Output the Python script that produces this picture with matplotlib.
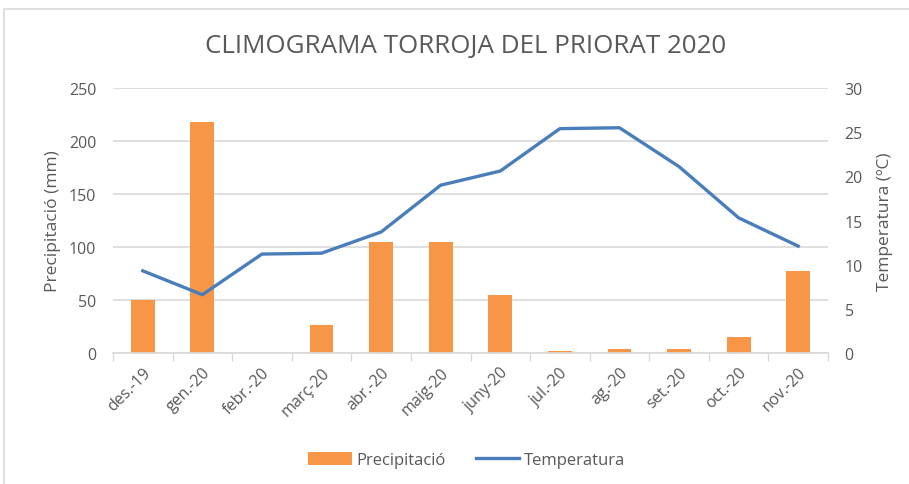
import matplotlib
matplotlib.use("Agg")
import matplotlib.pyplot as plt
from matplotlib.patches import Rectangle, Patch
from matplotlib.lines import Line2D
import numpy as np

months = ["des.-19", "gen.-20", "febr.-20", "març-20", "abr.-20", "maig-20",
          "juny-20", "jul.-20", "ag.-20", "set.-20", "oct.-20", "nov.-20"]
precip = [50, 218, 0, 26, 105, 105, 55, 1.5, 4, 4, 15, 77]
temp = [9.3, 6.6, 11.2, 11.3, 13.7, 19.0, 20.6, 25.4, 25.5, 21.1, 15.3, 12.1]

plt.rcParams['font.family'] = ['Open Sans', 'DejaVu Sans']
txt = '#595959'
bar_c = '#F79646'
line_c = '#4A7EBB'
grid_c = '#D9D9D9'

fig = plt.figure(figsize=(9.09, 4.85), dpi=100)
fig.patches.append(Rectangle((4/909, -0.01), 1.0, 1 - 10/485 + 0.01, transform=fig.transFigure,
                             fill=False, edgecolor='#D9D9D9', linewidth=1.2))
ax = fig.add_axes([113/909, 1 - 354/485, (828 - 113)/909, (354 - 89)/485])
x = np.arange(len(months))
ax.bar(x, precip, width=0.4, color=bar_c, zorder=2)
ax.set_xlim(-0.5, len(months) - 0.5)
ax.set_ylim(0, 250)
ax.set_yticks(range(0, 251, 50))
ax.yaxis.grid(True, color=grid_c, linewidth=1.2, zorder=0)
ax.set_axisbelow(True)
for s in ['top', 'right', 'left']:
    ax.spines[s].set_visible(False)
ax.spines['bottom'].set_color(grid_c)
ax.spines['bottom'].set_linewidth(1.2)
ax.set_xticks(x)
ax.set_xticklabels(months, rotation=45, ha='right', rotation_mode='anchor', color=txt, fontsize=11.5)
ax.tick_params(axis='x', length=0, pad=8)
ax.set_xticks(np.arange(-0.5, len(months), 1), minor=True)
ax.tick_params(axis='x', which='minor', length=6, color=grid_c, width=1)
ax.tick_params(axis='y', length=0, labelcolor=txt, labelsize=11.5, pad=12)
ax.set_ylabel("Precipitació (mm)", color=txt, fontsize=12.5, labelpad=6)

ax2 = ax.twinx()
ax2.plot(x, temp, color=line_c, linewidth=2.4, zorder=3)
ax2.set_ylim(0, 30)
ax2.set_yticks(range(0, 31, 5))
for s in ['top', 'right', 'left', 'bottom']:
    ax2.spines[s].set_visible(False)
ax2.tick_params(axis='y', length=0, labelcolor=txt, labelsize=11.5, pad=12)
ax2.set_ylabel("Temperatura (ºC)", color=txt, fontsize=12.5, labelpad=10, rotation=90)

fig.text(466/909, 1 - 47/485, "CLIMOGRAMA TORROJA DEL PRIORAT 2020", ha='center', va='center',
         color=txt, fontsize=18.7)

handles = [Patch(facecolor=bar_c, edgecolor='none'),
           Line2D([0], [0], color=line_c, linewidth=2.4)]
fig.legend(handles, ["Precipitació", "Temperatura"], loc='center', bbox_to_anchor=(467/909, 1 - 461/485),
           ncol=2, frameon=False, fontsize=12, labelcolor=txt, handlelength=2.6,
           handleheight=0.8, columnspacing=1.8, handletextpad=0.3)

fig.savefig("out.png", dpi=100)
